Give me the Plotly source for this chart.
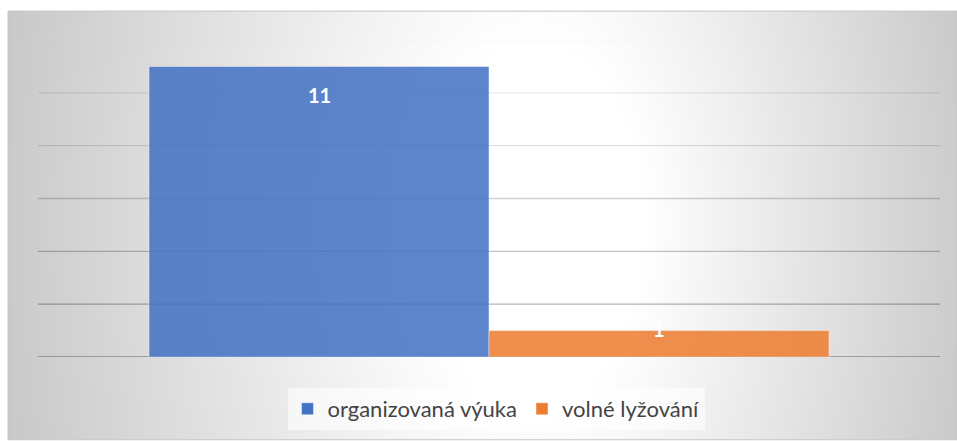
import base64
import plotly.graph_objects as go

# data
series = ['organizovaná výuka', 'volné lyžování']
values = [11, 1]
colors = ['#4472C4', '#ED7D31']
grid_ticks = [0, 2, 4, 6, 8, 10, 12]
grid_alpha = [0.36, 0.30, 0.24, 0.18, 0.12, 0.08, 0.02]
label_shift = [-29, 2]

W, H = 957, 441
ML, MR, MT, MB = 38, 17, 40, 83
plot_w = W - ML - MR
plot_h = H - MT - MB

# frame of the chart (Excel chart area) in pixels
fx0, fy0, fx1, fy1 = 8, 11, 957, 441
fw, fh = fx1 - fx0, fy1 - fy0

svg = f'''<svg xmlns="http://www.w3.org/2000/svg" width="{fw}" height="{fh}" viewBox="0 0 {fw} {fh}" preserveAspectRatio="none">
<defs><radialGradient id="g" gradientUnits="userSpaceOnUse" cx="0" cy="0" r="1" fx="0.12" fy="0"
 gradientTransform="translate({fw/2:.1f},{fh/2:.1f}) scale(540,900)">
<stop offset="0" stop-color="#ffffff"/><stop offset="0.2" stop-color="#ffffff"/>
<stop offset="1" stop-color="#c2c2c2"/></radialGradient></defs>
<rect x="0" y="0" width="{fw}" height="{fh}" fill="url(#g)"/></svg>'''
svg_src = 'data:image/svg+xml;base64,' + base64.b64encode(svg.encode()).decode()

px = lambda x: (x - ML) / plot_w
py = lambda y: (H - MB - y) / plot_h

bar_w = 340 / plot_w
offsets = [-bar_w, 0]

fig = go.Figure()
for name, v, c, off in zip(series, values, colors, offsets):
    fig.add_trace(go.Bar(
        x=[0], y=[v], name=name, width=bar_w, offset=off,
        marker=dict(color=c, opacity=0.86, line=dict(color='rgba(255,255,255,0.45)', width=1)),
        hoverinfo='skip',
    ))

shapes = [dict(
    type='rect', xref='paper', yref='paper',
    x0=px(fx0), x1=px(fx1), y0=py(fy1), y1=py(fy0),
    line=dict(color='#c4c4c4', width=1), fillcolor='rgba(0,0,0,0)', layer='below',
)]
for t, a in zip(grid_ticks, grid_alpha):
    shapes.append(dict(
        type='line', xref='paper', yref='y', x0=0, x1=1, y0=t, y1=t,
        line=dict(color=f'rgba(0,0,0,{a})', width=1.3), layer='below',
    ))

annotations = []
for v, off, s in zip(values, offsets, label_shift):
    annotations.append(dict(
        x=off + bar_w / 2, y=v, xref='x', yref='y', text=f'<b>{v}</b>',
        showarrow=False, yshift=s, yanchor='middle',
        font=dict(family='Lato', size=20, color='white'),
    ))

fig.update_layout(
    width=W, height=H,
    margin=dict(l=ML, r=MR, t=MT, b=MB),
    paper_bgcolor='white',
    plot_bgcolor='rgba(0,0,0,0)',
    images=[dict(source=svg_src, xref='paper', yref='paper',
                 x=px(fx0), y=py(fy0), sizex=fw / plot_w, sizey=fh / plot_h,
                 xanchor='left', yanchor='top', sizing='stretch', layer='below')],
    shapes=shapes,
    annotations=annotations,
    barmode='overlay',
    xaxis=dict(range=[-0.5, 0.5], showgrid=False, zeroline=False, showticklabels=False, fixedrange=True),
    yaxis=dict(range=[0, 12], showgrid=False, zeroline=False, showticklabels=False, fixedrange=True),
    showlegend=True,
    legend=dict(orientation='h', x=px(496), xanchor='center', y=py(409), yanchor='middle',
                bgcolor='rgba(255,255,255,0.6)', font=dict(family='Lato', size=22, color='#444444'),
                itemclick=False, itemdoubleclick=False),
)

# the page's default body margin would push the chart 8px down and right
fig.write_html('out.html', config={'displayModeBar': False},
               post_script="document.body.style.margin='0';")
